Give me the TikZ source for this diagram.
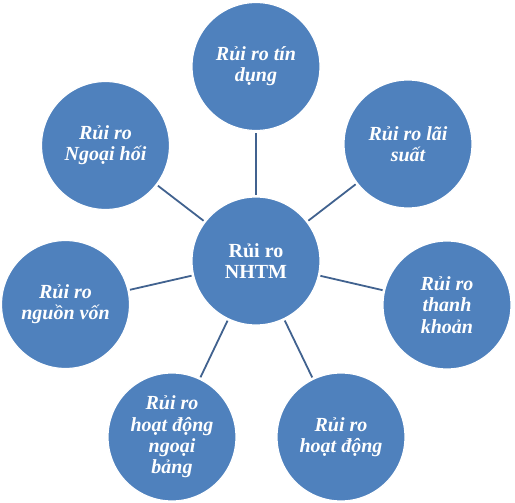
\documentclass[tikz,border=0pt]{standalone}
\usepackage{fontspec}
\setmainfont{Liberation Serif}
\definecolor{circfill}{HTML}{4F81BD}
\definecolor{linkcol}{HTML}{41628F}
\begin{document}
\begin{tikzpicture}[x=1pt,y=-1pt,
  riskcircle/.style={circle, fill=circfill, draw=white, line width=1.2pt,
    minimum size=128pt, inner sep=0pt, align=center, text=white,
    font=\fontsize{20}{21.3}\selectfont\bfseries\itshape},
  centercircle/.style={riskcircle, font=\fontsize{20}{21}\selectfont\bfseries},
  link/.style={draw=linkcol, line width=1.8pt, shorten <=1.5pt, shorten >=1.5pt}]
\useasboundingbox (0,0) rectangle (515,503);
\node[centercircle] (c) at (256,261) {Rủi ro\\NHTM};
\node[riskcircle] (t) at (256,66.5) {Rủi ro tín\\dụng};
\node[riskcircle] (tr) at (408,144) {Rủi ro lãi\\suất};
\node[riskcircle] (r) at (447,305) {Rủi ro\\thanh\\khoản};
\node[riskcircle] (br) at (341,437) {Rủi ro\\hoạt động};
\node[riskcircle] (bl) at (172,437) {Rủi ro\\hoạt động\\ngoại\\bảng};
\node[riskcircle] (l) at (65.5,304.5) {Rủi ro\\nguồn vốn};
\node[riskcircle] (tl) at (105.5,145.5) {Rủi ro\\Ngoại hối};
\foreach \n in {t,tr,r,br,bl,l,tl}{
  \draw[link] (c) -- (\n);
}
\end{tikzpicture}
\end{document}
